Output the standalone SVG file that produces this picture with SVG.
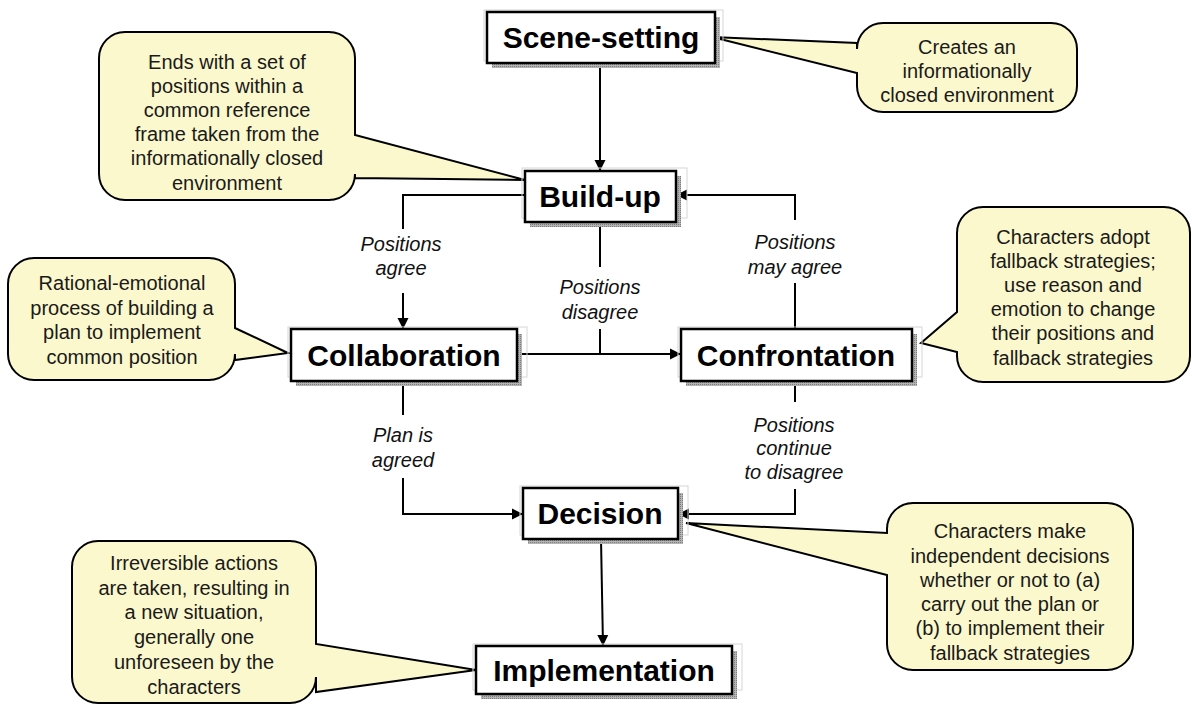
<svg xmlns="http://www.w3.org/2000/svg" width="1192" height="705" viewBox="0 0 1192 705">
  <defs>
    <marker id="arrow" markerWidth="12" markerHeight="12" refX="11" refY="6" orient="auto" markerUnits="userSpaceOnUse">
      <path d="M0,0.5 L11,6 L0,11.5 z" fill="#000"/>
    </marker>
    <pattern id="shadowDots" width="2" height="2" patternUnits="userSpaceOnUse">
      <rect width="2" height="2" fill="#b4b4b4"/>
      <rect width="1" height="1" fill="#7c7c7c"/>
    </pattern>
  </defs>
  <style>
    .frame { fill: none; stroke: #d6d6d6; stroke-width: 1; }
    .shadow { fill: url(#shadowDots); }
    .box { fill: #fff; stroke: #000; stroke-width: 2.5; }
    .title { font-family: "Liberation Sans", Arial, sans-serif; font-weight: bold; font-size: 30px; fill: #000; text-anchor: middle; }
    .callout { fill: #faf8cc; stroke: #000; stroke-width: 2; stroke-linejoin: miter; }
    .note { font-family: "Liberation Sans", Arial, sans-serif; font-size: 20px; fill: #1a1a1a; text-anchor: middle; }
    .label { font-family: "Liberation Sans", Arial, sans-serif; font-style: italic; font-size: 20px; fill: #111; text-anchor: middle; }
    .wire { fill: none; stroke: #000; stroke-width: 2; }
  </style>

  <rect width="1192" height="705" fill="#fff"/>

  <!-- callouts -->
  <g id="note-buildup">
    <path class="callout" d="M125,32 H329 A26,26 0 0 1 355,58 V135 L525,180 L355,178 V174 A26,26 0 0 1 329,200 H125 A26,26 0 0 1 99,174 V58 A26,26 0 0 1 125,32 Z"/>
    <text class="note" x="227" y="69">Ends with a set of</text>
    <text class="note" x="227" y="93">positions within a</text>
    <text class="note" x="227" y="117">common reference</text>
    <text class="note" x="227" y="141">frame taken from the</text>
    <text class="note" x="227" y="165">informationally closed</text>
    <text class="note" x="227" y="190">environment</text>
  </g>

  <g id="note-scene">
    <path class="callout" d="M883,23 H1051 A26,26 0 0 1 1077,49 V86 A26,26 0 0 1 1051,112 H883 A26,26 0 0 1 857,86 V73 L712,37 L857,43 V49 A26,26 0 0 1 883,23 Z"/>
    <text class="note" x="967" y="54">Creates an</text>
    <text class="note" x="967" y="78">informationally</text>
    <text class="note" x="967" y="102">closed environment</text>
  </g>

  <g id="note-collaboration">
    <path class="callout" d="M34,258 H209 A26,26 0 0 1 235,284 V328 L288,353 L235,360 V354 A26,26 0 0 1 209,380 H34 A26,26 0 0 1 8,354 V284 A26,26 0 0 1 34,258 Z"/>
    <text class="note" x="122" y="290">Rational-emotional</text>
    <text class="note" x="122" y="315">process of building a</text>
    <text class="note" x="122" y="339">plan to implement</text>
    <text class="note" x="122" y="364">common position</text>
  </g>

  <g id="note-confrontation">
    <path class="callout" d="M983,207 H1164 A26,26 0 0 1 1190,233 V356 A26,26 0 0 1 1164,382 H983 A26,26 0 0 1 957,356 V352 L921,343 L957,312 V233 A26,26 0 0 1 983,207 Z"/>
    <text class="note" x="1073" y="244">Characters adopt</text>
    <text class="note" x="1073" y="268">fallback strategies;</text>
    <text class="note" x="1073" y="292">use reason and</text>
    <text class="note" x="1073" y="316">emotion to change</text>
    <text class="note" x="1073" y="340">their positions and</text>
    <text class="note" x="1073" y="365">fallback strategies</text>
  </g>

  <g id="note-decision">
    <path class="callout" d="M913,503 H1107 A26,26 0 0 1 1133,529 V644 A26,26 0 0 1 1107,670 H913 A26,26 0 0 1 887,644 V575 L686,523 L887,533 V529 A26,26 0 0 1 913,503 Z"/>
    <text class="note" x="1010" y="538">Characters make</text>
    <text class="note" x="1010" y="563">independent decisions</text>
    <text class="note" x="1010" y="587">whether or not to (a)</text>
    <text class="note" x="1010" y="611">carry out the plan or</text>
    <text class="note" x="1010" y="635">(b) to implement their</text>
    <text class="note" x="1010" y="660">fallback strategies</text>
  </g>

  <g id="note-implementation">
    <path class="callout" d="M98,541 H290 A26,26 0 0 1 316,567 V644 L476,670 L316,692 V677 A26,26 0 0 1 290,703 H98 A26,26 0 0 1 72,677 V567 A26,26 0 0 1 98,541 Z"/>
    <text class="note" x="194" y="570">Irreversible actions</text>
    <text class="note" x="194" y="595">are taken, resulting in</text>
    <text class="note" x="194" y="619">a new situation,</text>
    <text class="note" x="194" y="644">generally one</text>
    <text class="note" x="194" y="669">unforeseen by the</text>
    <text class="note" x="194" y="694">characters</text>
  </g>

  <!-- connectors -->
  <g id="connectors">
    <path class="wire" d="M600,63 V171" marker-end="url(#arrow)"/>
    <path class="wire" d="M525,195 H403 V229"/>
    <path class="wire" d="M403,293 V329" marker-end="url(#arrow)"/>
    <path class="wire" d="M600,222 V267"/>
    <path class="wire" d="M600,329 V354"/>
    <path class="wire" d="M517,354 H681" marker-end="url(#arrow)"/>
    <path class="wire" d="M795,329 V283"/>
    <path class="wire" d="M795,220 V195 H676" marker-end="url(#arrow)"/>
    <path class="wire" d="M403,381 V415"/>
    <path class="wire" d="M403,478 V514 H523" marker-end="url(#arrow)"/>
    <path class="wire" d="M795,381 V402"/>
    <path class="wire" d="M795,489 V514 H678" marker-end="url(#arrow)"/>
    <path class="wire" d="M601,539 L603,646" marker-end="url(#arrow)"/>

    <text class="label" x="401" y="251">Positions</text>
    <text class="label" x="401" y="275">agree</text>
    <text class="label" x="600" y="294">Positions</text>
    <text class="label" x="600" y="319">disagree</text>
    <text class="label" x="795" y="249">Positions</text>
    <text class="label" x="795" y="274">may agree</text>
    <text class="label" x="403" y="442">Plan is</text>
    <text class="label" x="403" y="467">agreed</text>
    <text class="label" x="794" y="432">Positions</text>
    <text class="label" x="794" y="455">continue</text>
    <text class="label" x="794" y="479">to disagree</text>
  </g>

  <!-- stage boxes -->
  <g id="scene-setting">
    <rect class="frame" x="484" y="10" width="239" height="51"/>
    <rect class="shadow" x="492" y="17" width="228" height="51"/>
    <rect class="box" x="487" y="12" width="228" height="51"/>
    <text class="title" x="601" y="48">Scene-setting</text>
  </g>

  <g id="build-up">
    <rect class="frame" x="522" y="168" width="165" height="50"/>
    <rect class="shadow" x="530" y="176" width="151" height="51"/>
    <rect class="box" x="525" y="171" width="151" height="51"/>
    <text class="title" x="600" y="207">Build-up</text>
  </g>

  <g id="collaboration">
    <rect class="frame" x="288" y="327" width="239" height="50"/>
    <rect class="shadow" x="296" y="334" width="226" height="52"/>
    <rect class="box" x="291" y="329" width="226" height="52"/>
    <text class="title" x="404" y="366">Collaboration</text>
  </g>

  <g id="confrontation">
    <rect class="frame" x="678" y="327" width="244" height="50"/>
    <rect class="shadow" x="686" y="334" width="231" height="52"/>
    <rect class="box" x="681" y="329" width="231" height="52"/>
    <text class="title" x="796" y="366">Confrontation</text>
  </g>

  <g id="decision">
    <rect class="frame" x="520" y="486" width="168" height="49"/>
    <rect class="shadow" x="528" y="493" width="155" height="51"/>
    <rect class="box" x="523" y="488" width="155" height="51"/>
    <text class="title" x="600" y="524">Decision</text>
  </g>

  <g id="implementation">
    <rect class="frame" x="473" y="644" width="269" height="46"/>
    <rect class="shadow" x="481" y="651" width="256" height="48"/>
    <rect class="box" x="476" y="646" width="256" height="48"/>
    <text class="title" x="604" y="681">Implementation</text>
  </g>
</svg>
